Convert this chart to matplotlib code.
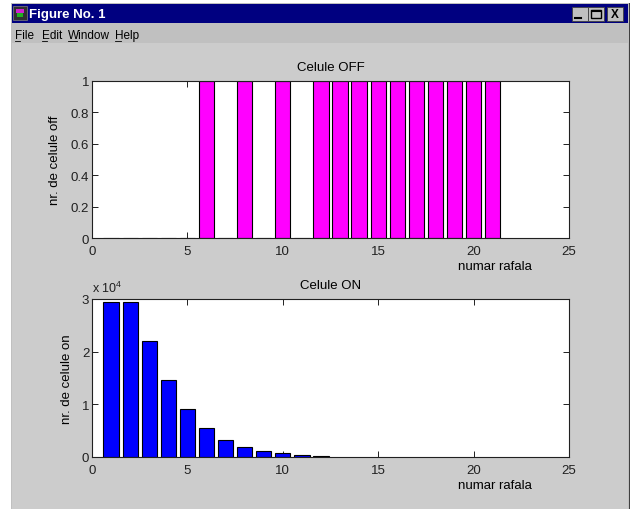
import matplotlib.pyplot as plt
from matplotlib.patches import Rectangle
from matplotlib.lines import Line2D

plt.rcParams['font.family'] = ['Liberation Sans', 'DejaVu Sans']
plt.rcParams['mathtext.fontset'] = 'custom'
plt.rcParams['mathtext.rm'] = 'Liberation Sans'

W, H = 634, 510

# ---------------- data ----------------
burst_no = list(range(1, 22))
cells_off = [0, 0, 0, 0, 0, 1, 0, 1, 0, 1, 0, 1, 1, 1, 1, 1, 1, 1, 1, 1, 1]

burst_no_on = list(range(1, 13))
cells_on = [29500, 29500, 22000, 14700, 9200, 5500, 3200, 1900, 1100, 700, 450, 250]

x_ticks = [0, 5, 10, 15, 20, 25]
off_ticks = [0, 0.2, 0.4, 0.6, 0.8, 1]
on_ticks = [0, 10000, 20000, 30000]


def fx(x):
    return x / W


def fy(y):
    return 1 - y / H


def px_rect(x0, y0, x1, y1, zorder=-10, **kw):
    return Rectangle((fx(x0), fy(y1)), (x1 - x0) / W, (y1 - y0) / H,
                     transform=fig.transFigure, zorder=zorder, **kw)


fig = plt.figure(figsize=(W / 100, H / 100), dpi=100)
fig.patch.set_facecolor('white')

############################## window chrome ##############################
fig.add_artist(px_rect(11, 4, 630, 510, facecolor='#c0c0c0', edgecolor='none'))
fig.add_artist(px_rect(629, 4, 630, 510, facecolor='#404040', edgecolor='none'))
fig.add_artist(px_rect(12, 5, 628, 24, facecolor='#000080', edgecolor='none'))
fig.add_artist(px_rect(12, 44, 628, 510, facecolor='#cccccc', edgecolor='none'))

# icon
fig.add_artist(px_rect(13, 7, 27, 21, facecolor='#303030', edgecolor='#808080', lw=0.5, zorder=-5))
fig.add_artist(px_rect(16, 10, 24, 14, facecolor='#d020d0', edgecolor='none', zorder=-4))
fig.add_artist(px_rect(17, 14, 23, 18, facecolor='#20b020', edgecolor='none', zorder=-4))

fig.text(fx(29), fy(15), 'Figure No. 1', color='white', fontsize=9.5,
         fontweight='bold', va='center', ha='left')

# window buttons
for bx0, bx1 in [(572, 588), (588, 604), (607, 623)]:
    fig.add_artist(px_rect(bx0, 8, bx1, 22, facecolor='#c0c0c0', edgecolor='#404040', lw=0.6, zorder=-5))
fig.add_artist(Line2D([fx(575), fx(581)], [fy(19), fy(19)], color='black', lw=1.5,
                      transform=fig.transFigure))
fig.add_artist(px_rect(591, 11, 601, 19, facecolor='none', edgecolor='black', lw=1.0, zorder=-4))
fig.add_artist(Line2D([fx(592), fx(600)], [fy(11.5), fy(11.5)], color='black', lw=1.5,
                      transform=fig.transFigure))
fig.text(fx(615), fy(15), 'X', fontsize=8.5, fontweight='bold', ha='center', va='center')

# menu
menu_items = [('File', 15), ('Edit', 42), ('Window', 68), ('Help', 115)]
first_w = {'File': 5, 'Edit': 5, 'Window': 9, 'Help': 6}
for label, mx in menu_items:
    fig.text(fx(mx), fy(36), label, fontsize=8.5, ha='left', va='center')
    fig.add_artist(Line2D([fx(mx), fx(mx + first_w[label])], [fy(41.5), fy(41.5)],
                          color='black', lw=0.6, transform=fig.transFigure))


############################## axes ##############################
def style_axes(ax):
    ax.set_facecolor('white')
    ax.set_axisbelow(True)
    for s in ax.spines.values():
        s.set_linewidth(0.8)
        s.set_color('#202020')
    ax.tick_params(direction='in', top=True, right=True, length=4, width=0.7,
                   labelsize=9.5, colors='#202020')
    ax.tick_params(axis='x', pad=5)
    ax.tick_params(axis='y', pad=2)
    ax.set_xlim(0, 25)
    ax.set_xticks(x_ticks)


ax1 = fig.add_axes([fx(92), fy(239), (569 - 92) / W, (239 - 82) / H])
ax1.bar(burst_no, cells_off, width=0.8, color='#ff00ff', edgecolor='black', linewidth=0.8)
style_axes(ax1)
ax1.set_ylim(0, 1)
ax1.set_yticks(off_ticks)
ax1.set_yticklabels(['0', '0.2', '0.4', '0.6', '0.8', '1'])
ax1.set_title('Celule OFF', fontsize=9.5, pad=8)
ax1.set_xlabel('numar rafala', fontsize=9.5)
ax1.xaxis.set_label_coords(0.845, -0.14)
ax1.set_ylabel('nr. de celule off', fontsize=9.5)
ax1.yaxis.set_label_coords((61 - 92) / 477, 0.5)

ax2 = fig.add_axes([fx(92), fy(458), (569 - 92) / W, (458 - 300) / H])
ax2.bar(burst_no_on, cells_on, width=0.8, color='#0000ff', edgecolor='black', linewidth=0.8)
style_axes(ax2)
ax2.set_ylim(0, 30000)
ax2.set_yticks(on_ticks)
ax2.set_yticklabels(['0', '1', '2', '3'])
ax2.set_title('Celule ON', fontsize=9.5, pad=8)
ax2.set_xlabel('numar rafala', fontsize=9.5)
ax2.xaxis.set_label_coords(0.845, -0.14)
ax2.set_ylabel('nr. de celule on', fontsize=9.5)
ax2.yaxis.set_label_coords((73 - 92) / 477, 0.5)
fig.text(fx(92), fy(293), r'x 10$^4$', fontsize=9, ha='left', va='baseline', color='#202020')

plt.savefig('out.png', dpi=100)
